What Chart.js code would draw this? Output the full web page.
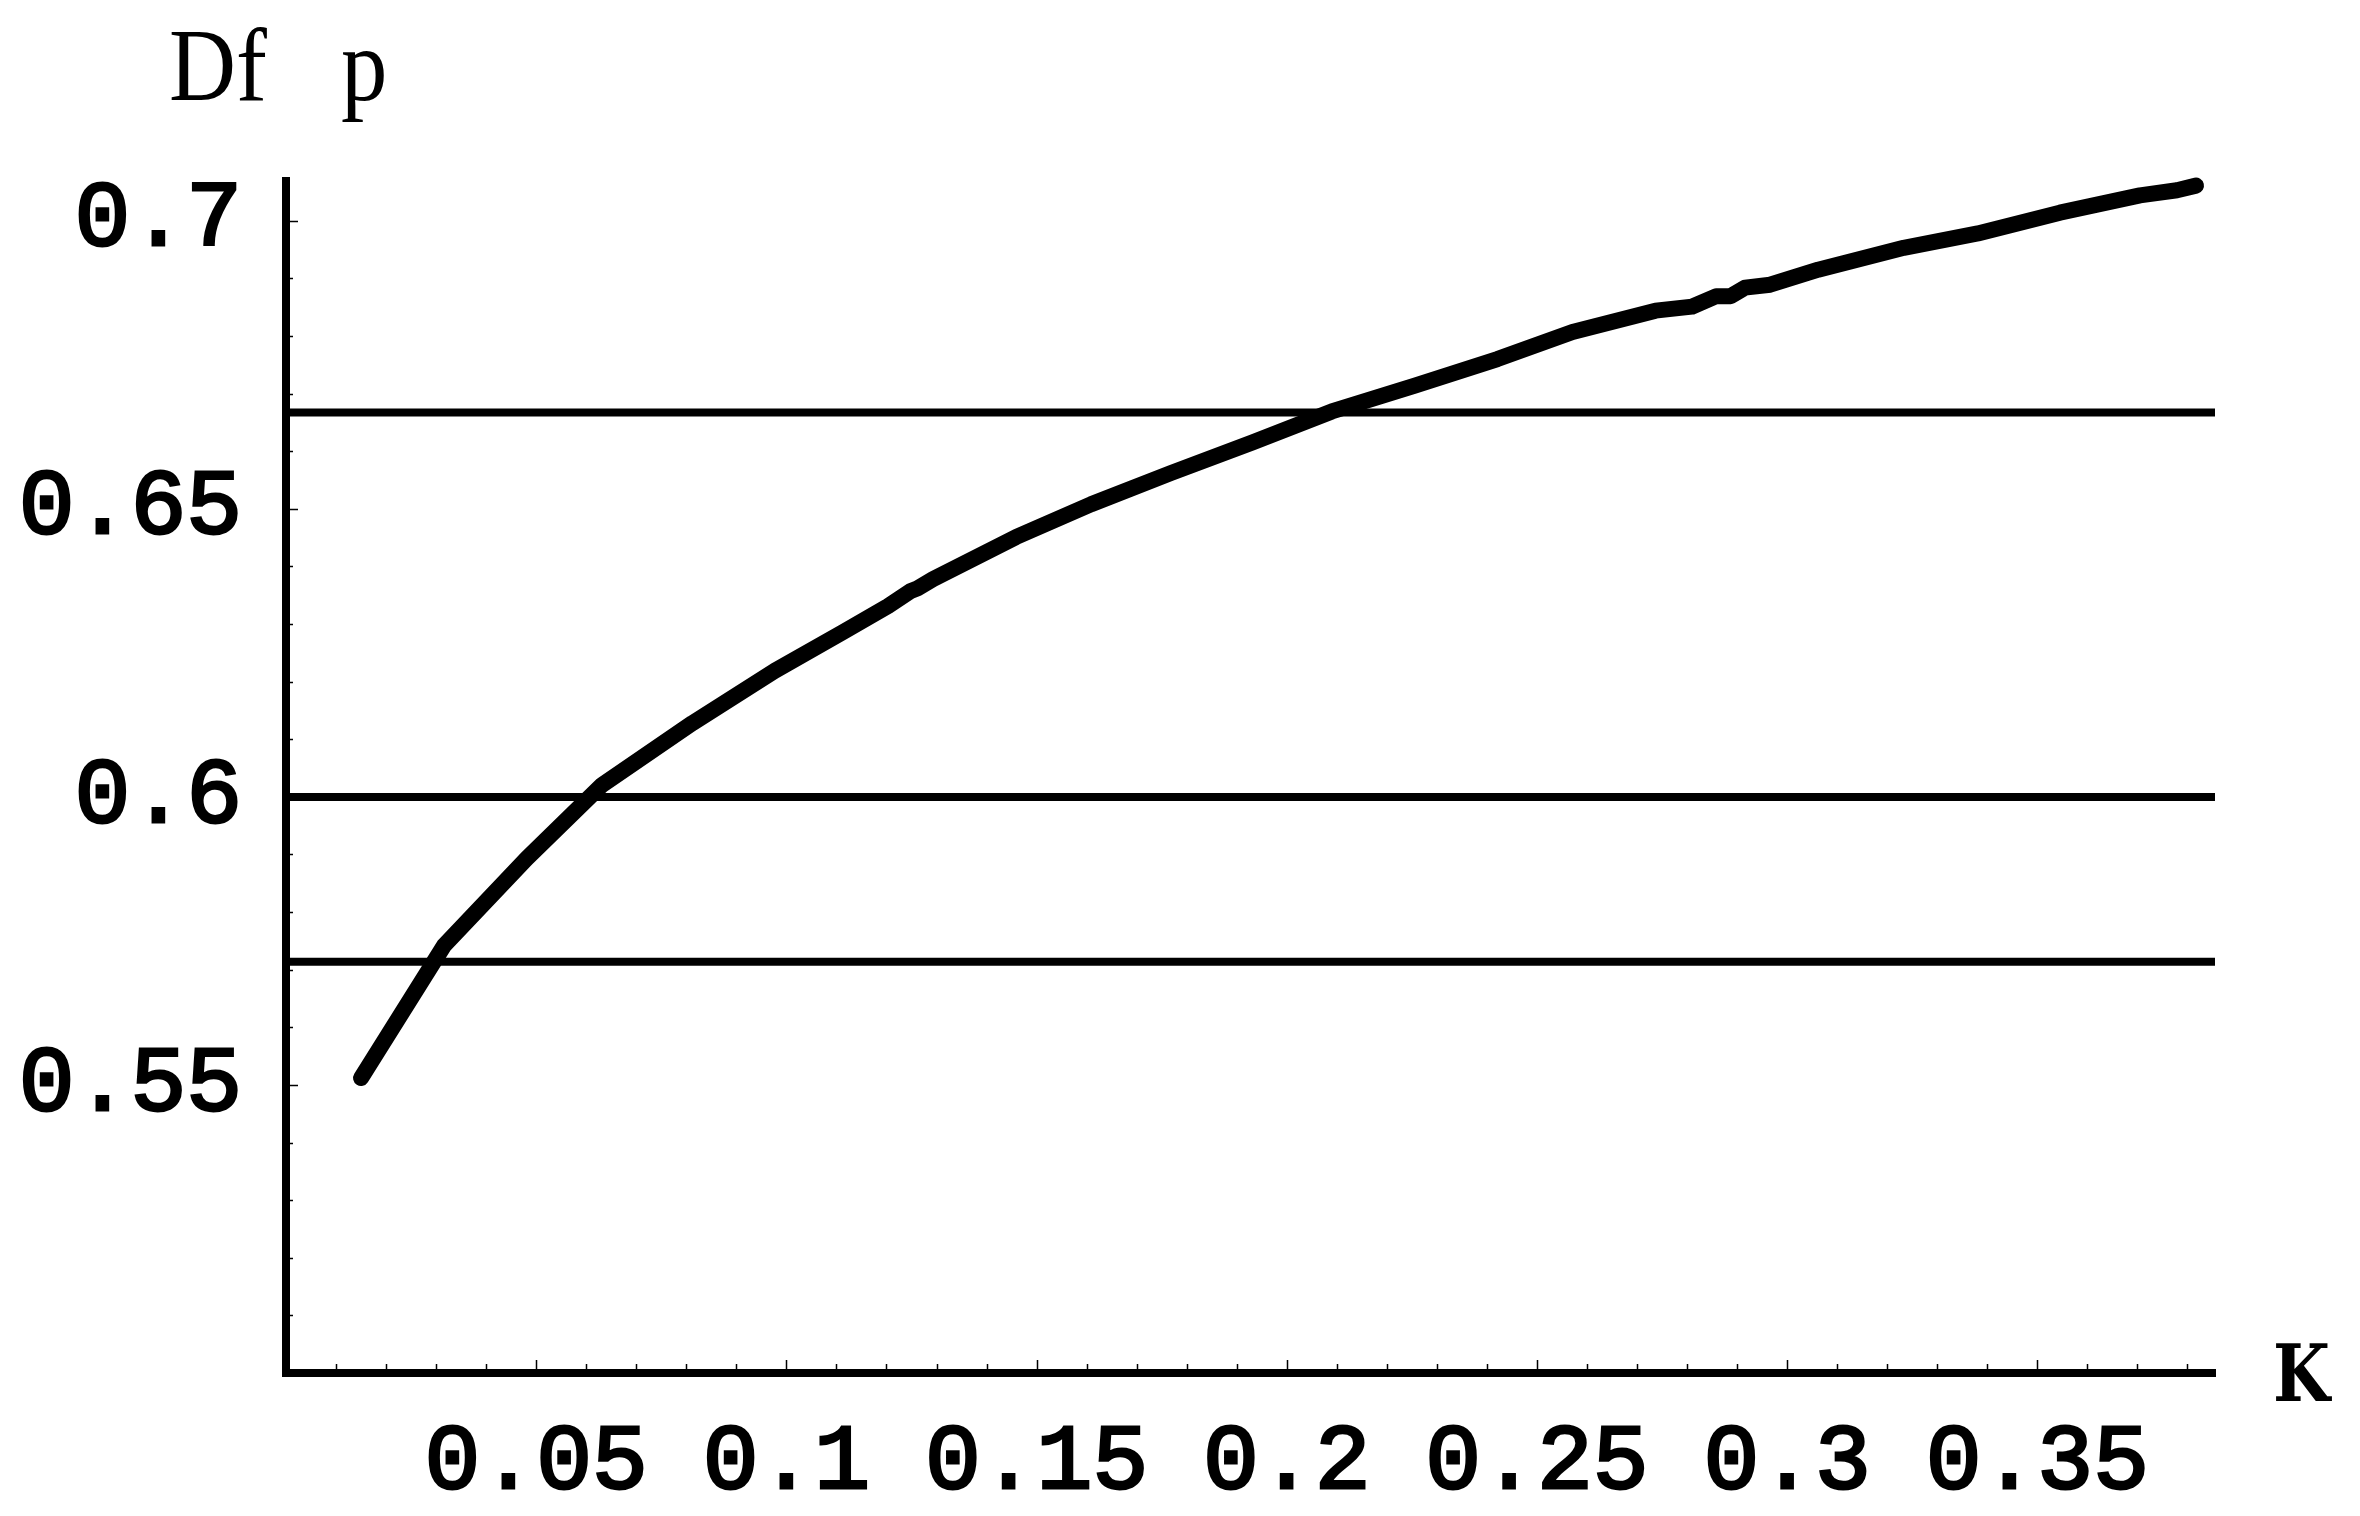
<!DOCTYPE html>
<html>
<head>
<meta charset="utf-8">
<script src="https://cdn.jsdelivr.net/npm/chart.js@4.4.1/dist/chart.umd.min.js"></script>
<style>
  html, body { margin: 0; padding: 0; background: #fff; }
  #wrap { width: 2360px; height: 1516px; position: relative; }
</style>
</head>
<body>
<div id="wrap"><canvas id="plot"></canvas></div>
<script>
// curve
const kValues = [0.0150, 0.0316, 0.0481, 0.0632, 0.0812, 0.0977, 0.1113, 0.1203, 0.1248, 0.1262,
                 0.1293, 0.1459, 0.1609, 0.1768, 0.1931, 0.2090, 0.2256, 0.2421, 0.2571, 0.2737,
                 0.2810, 0.2858, 0.2887, 0.2916, 0.2966, 0.3062, 0.3233, 0.3381, 0.3545, 0.3705,
                 0.3779, 0.3817];
const dfValues = [0.5512, 0.5742, 0.5893, 0.6021, 0.6128, 0.6219, 0.6286, 0.6331, 0.6357, 0.6362,
                  0.6378, 0.6451, 0.6508, 0.6562, 0.6615, 0.6669, 0.6714, 0.6760, 0.6807, 0.6844,
                  0.6851, 0.6869, 0.6869, 0.6884, 0.6889, 0.6915, 0.6953, 0.6978, 0.7014, 0.7044,
                  0.7053, 0.7061];

// horizontal reference levels
const refLevels = [0.5714, 0.6, 0.6667];
const refK = [0, 0.3855];

const xTickLabels = ['0.05', '0.1', '0.15', '0.2', '0.25', '0.3', '0.35'];
const yTickLabels = ['0.55', '0.6', '0.65', '0.7'];
const xName = 'K';
const yName = ['Df', 'p'];

const monoFont = "'Liberation Mono', 'DejaVu Sans Mono', monospace";

function fmt(v) { return String(Math.round(v * 100) / 100); }
function isMajor(v) { return Math.round(v * 100) % 5 === 0; }

// short tick marks on the inside of the axes + axis names
const axisDecor = {
    id: 'axisDecor',
    beforeDatasetsDraw(chart) {
        const { ctx, chartArea: a, scales: { x, y } } = chart;
        ctx.save();
        ctx.strokeStyle = '#000';
        ctx.lineWidth = 1.5;
        ctx.beginPath();
        x.ticks.forEach(t => {
            if (t.value <= 0.001) return;
            const px = Math.round(x.getPixelForValue(t.value)) + 0.5;
            ctx.moveTo(px, a.bottom);
            ctx.lineTo(px, a.bottom - (isMajor(t.value) ? 13 : 9));
        });
        y.ticks.forEach(t => {
            if (t.value <= 0.501) return;
            const py = Math.round(y.getPixelForValue(t.value)) + 0.5;
            ctx.moveTo(a.left, py);
            ctx.lineTo(a.left + (isMajor(t.value) ? 12 : 7), py);
        });
        ctx.stroke();
        ctx.restore();
    },
    afterDraw(chart) {
        const { ctx, chartArea: a } = chart;
        ctx.save();
        ctx.fillStyle = '#000';
        ctx.textBaseline = 'alphabetic';
        ctx.textAlign = 'left';
        // y axis name, narrow serif
        ctx.font = "103px 'Liberation Serif', serif";
        ctx.save();
        ctx.translate(a.left - 117, a.top - 81);
        ctx.scale(0.9, 1);
        ctx.fillText(yName[0], 0, 0);
        ctx.restore();
        ctx.save();
        ctx.translate(a.left + 55, a.top - 81);
        ctx.scale(0.9, 1);
        ctx.fillText(yName[1], 0, 0);
        ctx.restore();
        // x axis name, bold slab serif
        ctx.font = "bold 78px 'DejaVu Serif', serif";
        ctx.save();
        ctx.translate(a.right + 58, a.bottom + 28);
        ctx.scale(0.84, 1);
        ctx.fillText(xName, 0, 0);
        ctx.restore();
        ctx.restore();
    }
};

const datasets = refLevels.map(level => ({
    data: refK.map(k => ({ x: k, y: level })),
    borderColor: '#000',
    borderWidth: 8,
    pointRadius: 0,
    borderCapStyle: 'butt'
}));
datasets.push({
    data: kValues.map((k, i) => ({ x: k, y: dfValues[i] })),
    borderColor: '#000',
    borderWidth: 16,
    pointRadius: 0,
    tension: 0,
    borderCapStyle: 'round',
    borderJoinStyle: 'round',
    clip: false
});

const tickFont = { family: monoFont, size: 93 };

new Chart(document.getElementById('plot'), {
    type: 'line',
    data: { datasets },
    options: {
        responsive: true,
        maintainAspectRatio: false,
        animation: false,
        layout: { padding: { top: 181, right: 145, left: 0, bottom: 0 } },
        plugins: {
            legend: { display: false },
            tooltip: { enabled: false }
        },
        scales: {
            x: {
                type: 'linear',
                min: 0,
                max: 0.3855,
                afterFit: s => { s.height = 143; },
                grid: { display: false },
                border: { display: true, color: '#000', width: 8 },
                ticks: {
                    stepSize: 0.01,
                    autoSkip: false,
                    includeBounds: false,
                    maxRotation: 0,
                    minRotation: 0,
                    padding: 27,
                    color: '#000',
                    textStrokeColor: '#000',
                    textStrokeWidth: 3,
                    font: tickFont,
                    callback: v => xTickLabels.includes(fmt(v)) ? fmt(v) : ''
                }
            },
            y: {
                type: 'linear',
                min: 0.5,
                max: 0.7069,
                afterFit: s => { s.width = 286; },
                grid: { display: false },
                border: { display: true, color: '#000', width: 8 },
                ticks: {
                    stepSize: 0.01,
                    autoSkip: false,
                    includeBounds: false,
                    padding: 36,
                    color: '#000',
                    textStrokeColor: '#000',
                    textStrokeWidth: 3,
                    font: tickFont,
                    callback: v => yTickLabels.includes(fmt(v)) ? fmt(v) : ''
                }
            }
        }
    },
    plugins: [axisDecor]
});
</script>
</body>
</html>
